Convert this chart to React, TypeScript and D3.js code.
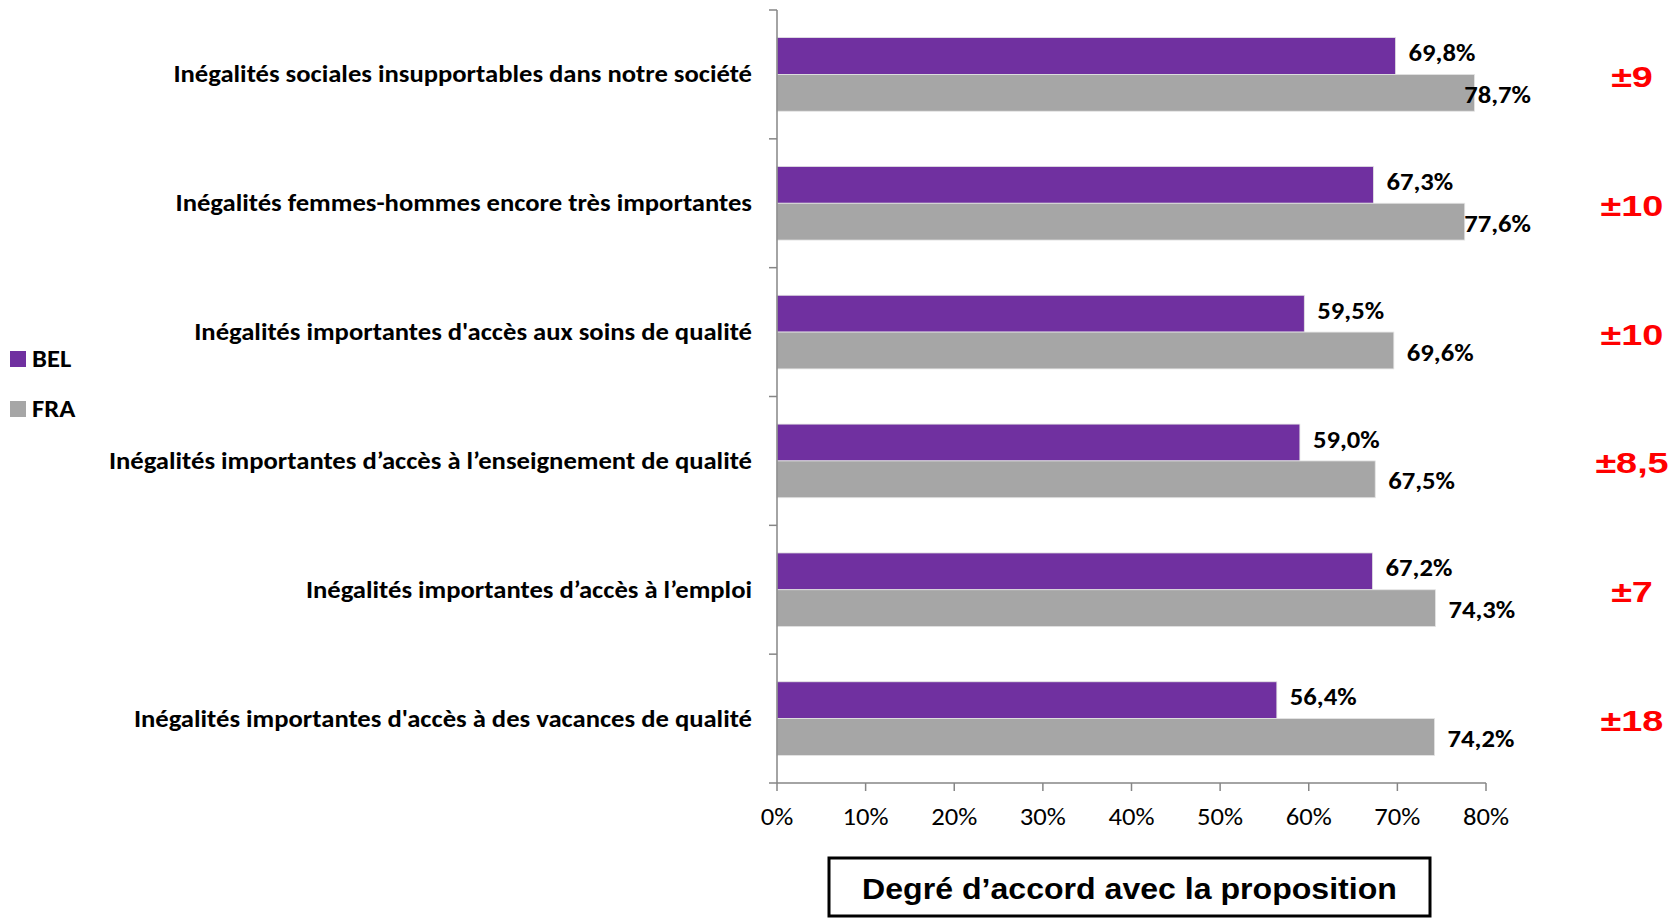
import * as d3 from "d3";

const categories = [
  "Inégalités sociales insupportables dans notre société",
  "Inégalités femmes-hommes encore très importantes",
  "Inégalités importantes d'accès aux soins de qualité",
  "Inégalités importantes d’accès à l’enseignement de qualité",
  "Inégalités importantes d’accès à l’emploi",
  "Inégalités importantes d'accès à des vacances de qualité",
];
const seriesNames = ["BEL", "FRA"];
const belValues = [69.8, 67.3, 59.5, 59.0, 67.2, 56.4];
const fraValues = [78.7, 77.6, 69.6, 67.5, 74.3, 74.2];
const margins = [9, 10, 10, 8.5, 7, 18];
const xTicks = [0, 10, 20, 30, 40, 50, 60, 70, 80];

const colors: Record<string, string> = { BEL: "#7030A0", FRA: "#A6A6A6" };
const narrow = "Carlito, 'Liberation Sans Narrow', 'Arial Narrow', Lato, sans-serif";
const arial = "'Liberation Sans', Arial, sans-serif";

// text squeezed/stretched horizontally like the original picture
function SText(props: {
  x: number;
  y: number;
  sx: number;
  anchor?: string;
  family: string;
  size: number;
  bold?: boolean;
  fill?: string;
  children: string;
}) {
  return (
    <g transform={`translate(${props.x},${props.y}) scale(${props.sx},1)`}>
      <text
        textAnchor={props.anchor || "start"}
        dominantBaseline="central"
        fontFamily={props.family}
        fontWeight={props.bold ? "bold" : "normal"}
        fontSize={props.size}
        fill={props.fill || "#000"}
      >
        {props.children}
      </text>
    </g>
  );
}

export default function App() {
  const width = 1680;
  const height = 918;
  const plot = { left: 777, right: 1486, top: 10, bottom: 783 };
  const labelLimit = 1531; // value labels never run past this
  const sx = 1.11;

  const x = d3.scaleLinear().domain([0, 80]).range([plot.left, plot.right]);
  const y = d3.scaleBand().domain(categories).range([plot.top, plot.bottom]);
  const yInner = d3
    .scaleBand()
    .domain(seriesNames)
    .range([0, y.bandwidth()])
    .paddingInner(0)
    .paddingOuter(0.75);

  const rows = categories.map((c, i) => ({
    cat: c,
    vals: [
      { s: "BEL", v: belValues[i] },
      { s: "FRA", v: fraValues[i] },
    ],
    margin: margins[i],
  }));

  const fmt = (v: number) => v.toFixed(1).replace(".", ",") + "%";
  const boundaries = d3.range(categories.length + 1).map((i) => plot.top + i * y.step());

  return (
    <div style={{ position: "absolute", left: 0, top: 0 }}>
      <svg width={width} height={height} style={{ display: "block", background: "#fff" }}>
        {/* bars */}
        {rows.map((r) =>
          r.vals.map((d) => (
            <rect
              key={r.cat + d.s}
              x={x(0)}
              y={y(r.cat)! + yInner(d.s)!}
              width={x(d.v) - x(0)}
              height={yInner.bandwidth()}
              fill={colors[d.s]}
              stroke="#e4e4e4"
              strokeWidth={0.8}
            />
          ))
        )}

        {/* value labels */}
        {rows.map((r) =>
          r.vals.map((d) => {
            const cy = y(r.cat)! + yInner(d.s)! + yInner.bandwidth() / 2 + (d.s === "BEL" ? -3 : 2);
            const lx = x(d.v) + 13;
            const clamp = lx + 66 > labelLimit;
            return (
              <SText
                key={"l" + r.cat + d.s}
                x={clamp ? labelLimit : lx}
                y={cy}
                sx={sx}
                anchor={clamp ? "end" : "start"}
                family={narrow}
                size={24}
                bold
              >
                {fmt(d.v)}
              </SText>
            );
          })
        )}

        {/* category labels */}
        {rows.map((r) => (
          <SText
            key={"c" + r.cat}
            x={752}
            y={y(r.cat)! + y.bandwidth() / 2}
            sx={sx}
            anchor="end"
            family={narrow}
            size={24}
            bold
          >
            {r.cat}
          </SText>
        ))}

        {/* margin of error */}
        {rows.map((r) => (
          <SText
            key={"m" + r.cat}
            x={1632}
            y={y(r.cat)! + y.bandwidth() / 2 + 2}
            sx={1.26}
            anchor="middle"
            family={arial}
            size={30}
            bold
            fill="#FF0000"
          >
            {"±" + String(r.margin).replace(".", ",")}
          </SText>
        ))}

        {/* axes */}
        <g stroke="#868686" strokeWidth={1.5}>
          <line x1={plot.left} x2={plot.left} y1={plot.top} y2={plot.bottom} />
          {boundaries.map((b) => (
            <line key={"yt" + b} x1={plot.left - 8} x2={plot.left} y1={b} y2={b} />
          ))}
          <line x1={plot.left} x2={plot.right} y1={plot.bottom} y2={plot.bottom} />
          {xTicks.map((t) => (
            <line key={"xt" + t} x1={x(t)} x2={x(t)} y1={plot.bottom} y2={plot.bottom + 8} />
          ))}
        </g>
        {xTicks.map((t) => (
          <SText key={"xl" + t} x={x(t)} y={817} sx={sx} anchor="middle" family={narrow} size={24}>
            {t + "%"}
          </SText>
        ))}

        {/* legend */}
        {seriesNames.map((s, i) => (
          <g key={"lg" + s}>
            <rect x={10} y={351 + i * 50} width={16} height={16} fill={colors[s]} />
            <SText x={32} y={359 + i * 50} sx={sx} family={narrow} size={24} bold>
              {s}
            </SText>
          </g>
        ))}

        {/* axis title box */}
        <rect x={829} y={858} width={601} height={58} fill="#fff" stroke="#000" strokeWidth={3} />
        <SText x={1129.5} y={889} sx={1.07} anchor="middle" family={arial} size={30} bold>
          Degré d’accord avec la proposition
        </SText>
      </svg>
    </div>
  );
}
